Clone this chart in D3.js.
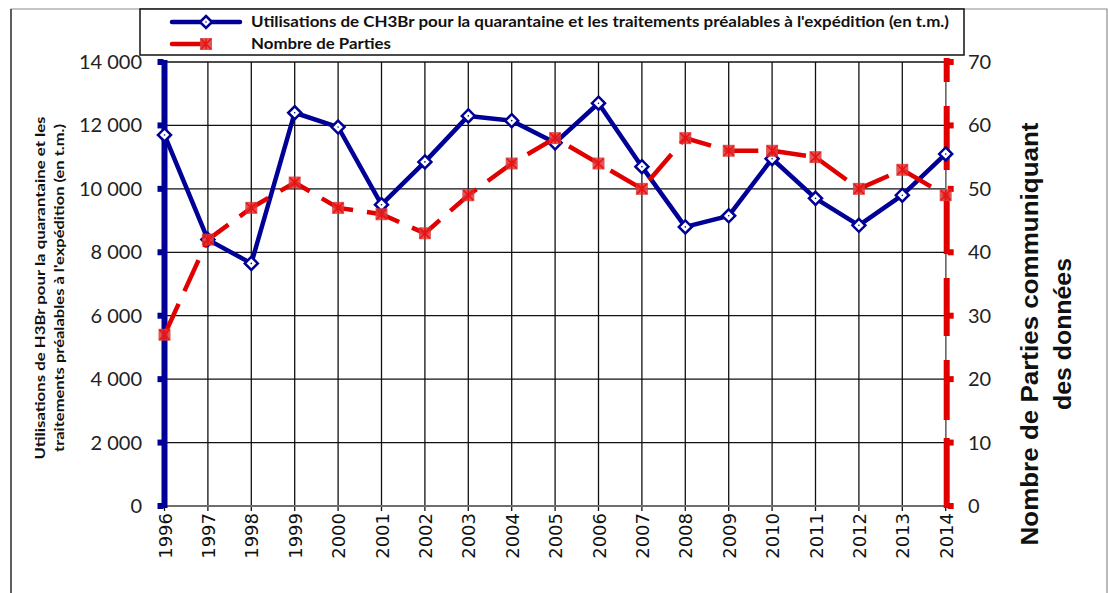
<!DOCTYPE html>
<html>
<head>
<meta charset="utf-8">
<script src="https://cdn.jsdelivr.net/npm/d3@7"></script>
<style>
  body { margin: 0; background: #fff; }
</style>
</head>
<body>
<div id="chart"></div>
<script>
const width = 1108;
const height = 593;

// data
const years = [1996, 1997, 1998, 1999, 2000, 2001, 2002, 2003, 2004, 2005,
               2006, 2007, 2008, 2009, 2010, 2011, 2012, 2013, 2014];
const usesCH3Br = [11700, 8400, 7650, 12400, 11950, 9500, 10850, 12300, 12150, 11450,
                   12700, 10700, 8800, 9150, 10950, 9700, 8850, 9800, 11100];
const nbParties = [27, 42, 47, 51, 47, 46, 43, 49, 54, 58,
                   54, 50, 58, 56, 56, 55, 50, 53, 49];
const leftTicks = [0, 2000, 4000, 6000, 8000, 10000, 12000, 14000];
const rightTicks = [0, 10, 20, 30, 40, 50, 60, 70];

const blue = "#000096";
const red = "#e00000";

const svg = d3.select("#chart")
    .append("svg")
    .attr("width", width)
    .attr("height", height)
    .style("font-family", "Lato, 'Open Sans', sans-serif");

// outer frame
svg.append("path")
    .attr("d", `M11,${height} V9 H1107 V${height}`)
    .attr("fill", "none")
    .attr("stroke", "#8c8c8c")
    .attr("stroke-width", 1.2);
svg.append("line")
    .attr("x1", 11).attr("x2", 11).attr("y1", 9).attr("y2", height)
    .attr("stroke", "#222").attr("stroke-width", 1.2);

// scales
const x = d3.scalePoint()
    .domain(years)
    .range([164.5, 945.7]);

const yLeft = d3.scaleLinear()
    .domain([0, 14000])
    .range([506, 62]);

const yRight = d3.scaleLinear()
    .domain([0, 70])
    .range([506, 62]);

// grid
svg.append("g")
    .selectAll("line")
    .data(leftTicks.slice(1))
    .enter().append("line")
    .attr("x1", x(years[0])).attr("x2", x(years[years.length - 1]))
    .attr("y1", d => yLeft(d)).attr("y2", d => yLeft(d))
    .attr("stroke", "#111").attr("stroke-width", 1.3);

svg.append("g")
    .selectAll("line")
    .data(years)
    .enter().append("line")
    .attr("x1", d => x(d)).attr("x2", d => x(d))
    .attr("y1", yLeft(14000)).attr("y2", yLeft(0) + 5)
    .attr("stroke", "#111").attr("stroke-width", 1.3);

// x axis line
svg.append("line")
    .attr("x1", x(years[0])).attr("x2", x(years[years.length - 1]))
    .attr("y1", yLeft(0)).attr("y2", yLeft(0))
    .attr("stroke", "#6e6e6e").attr("stroke-width", 2);

// x labels (rotated)
svg.append("g")
    .selectAll("text")
    .data(years)
    .enter().append("text")
    .attr("transform", d => `translate(${x(d) + 7},513) rotate(-90)`)
    .attr("text-anchor", "end")
    .attr("font-family", "'DejaVu Sans', sans-serif")
    .attr("font-size", "18px")
    .attr("fill", "#111")
    .text(d => d);

// left axis styled like the blue series
svg.append("line")
    .attr("x1", x(years[0])).attr("x2", x(years[0]))
    .attr("y1", yLeft(14000) - 2).attr("y2", yLeft(0) + 2)
    .attr("stroke", blue).attr("stroke-width", 6);
svg.append("g")
    .selectAll("rect")
    .data(leftTicks)
    .enter().append("rect")
    .attr("x", x(years[0]) - 7)
    .attr("y", d => yLeft(d) - 3)
    .attr("width", 6).attr("height", 6)
    .attr("fill", blue);

svg.append("g")
    .selectAll("text")
    .data(leftTicks)
    .enter().append("text")
    .attr("x", 142)
    .attr("y", d => yLeft(d) + 7)
    .attr("text-anchor", "end")
    .attr("font-size", "20px")
    .attr("fill", "#222")
    .text(d => d3.format(",")(d).replace(",", " "));

// right axis styled like the red series
svg.append("line")
    .attr("x1", x(years[years.length - 1])).attr("x2", x(years[years.length - 1]))
    .attr("y1", yRight(70)).attr("y2", yRight(0))
    .attr("stroke", "#777").attr("stroke-width", 1.2);
svg.append("line")
    .attr("x1", x(years[years.length - 1]) + 1).attr("x2", x(years[years.length - 1]) + 1)
    .attr("y1", yRight(0) + 2).attr("y2", yRight(70) - 4)
    .attr("stroke", red).attr("stroke-width", 6)
    .attr("stroke-dasharray", "70,18,60,24,58,24,60,24,64,24,60,24");
svg.append("g")
    .selectAll("rect")
    .data(rightTicks)
    .enter().append("rect")
    .attr("x", x(years[years.length - 1]) + 2)
    .attr("y", d => yRight(d) - 3)
    .attr("width", 6).attr("height", 6)
    .attr("fill", red);

svg.append("g")
    .selectAll("text")
    .data(rightTicks)
    .enter().append("text")
    .attr("x", 968)
    .attr("y", d => yRight(d) + 7)
    .attr("font-size", "20px")
    .attr("fill", "#222")
    .text(d => d);

// axis titles
const leftTitle = svg.append("text")
    .attr("transform", "translate(48,288) rotate(-90)")
    .attr("text-anchor", "middle")
    .attr("font-size", "13.5px")
    .attr("font-weight", "bold")
    .attr("fill", "#111");
leftTitle.append("tspan").attr("x", 0).attr("y", -3)
    .attr("textLength", 343).attr("lengthAdjust", "spacingAndGlyphs")
    .text("Utilisations de H3Br pour la quarantaine et les");
leftTitle.append("tspan").attr("x", 0).attr("y", 16)
    .attr("textLength", 328).attr("lengthAdjust", "spacingAndGlyphs")
    .text("traitements préalables à l'expédition (en t.m.)");

const rightTitle = svg.append("text")
    .attr("transform", "translate(1046,334) rotate(-90)")
    .attr("text-anchor", "middle")
    .attr("font-family", "'Liberation Sans', Arial, sans-serif")
    .attr("font-size", "23px")
    .attr("font-weight", "bold")
    .attr("fill", "#111");
rightTitle.append("tspan").attr("x", 0).attr("y", -8)
    .attr("textLength", 423).attr("lengthAdjust", "spacingAndGlyphs")
    .text("Nombre de Parties communiquant");
rightTitle.append("tspan").attr("x", 0).attr("y", 25)
    .attr("textLength", 152).attr("lengthAdjust", "spacingAndGlyphs")
    .text("des données");

// blue series
const blueLine = d3.line()
    .x((d, i) => x(years[i]))
    .y(d => yLeft(d));

svg.append("path")
    .datum(usesCH3Br)
    .attr("fill", "none")
    .attr("stroke", blue)
    .attr("stroke-width", 4.5)
    .attr("stroke-linejoin", "round")
    .attr("d", blueLine);

function diamond(g, cx, cy, r) {
    g.append("path")
        .attr("d", `M${cx},${cy - r} L${cx + r},${cy} L${cx},${cy + r} L${cx - r},${cy} Z`)
        .attr("fill", "#fff")
        .attr("stroke", blue)
        .attr("stroke-width", 2.5);
    g.append("circle")
        .attr("cx", cx).attr("cy", cy).attr("r", 0.8)
        .attr("fill", blue);
}

const blueMarks = svg.append("g");
usesCH3Br.forEach((d, i) => diamond(blueMarks, x(years[i]), yLeft(d), 6.5));

// red series
const redLine = d3.line()
    .x((d, i) => x(years[i]))
    .y(d => yRight(d));

svg.append("path")
    .datum(nbParties)
    .attr("fill", "none")
    .attr("stroke", red)
    .attr("stroke-width", 4.5)
    .attr("stroke-dasharray", "34,14")
    .attr("d", redLine);

function starSquare(g, cx, cy, s) {
    g.append("rect")
        .attr("x", cx - s / 2).attr("y", cy - s / 2)
        .attr("width", s).attr("height", s)
        .attr("fill", "#d93a3a")
        .attr("opacity", 0.85);
    const h = s / 2 - 1;
    g.append("path")
        .attr("d", `M${cx - h},${cy - h} L${cx + h},${cy + h} M${cx - h},${cy + h} L${cx + h},${cy - h} M${cx},${cy - h} L${cx},${cy + h}`)
        .attr("stroke", "#ee1010")
        .attr("stroke-width", 1.5);
}

const redMarks = svg.append("g");
nbParties.forEach((d, i) => starSquare(redMarks, x(years[i]), yRight(d), 12));

// legend
const legend = svg.append("g");
legend.append("rect")
    .attr("x", 140).attr("y", 9)
    .attr("width", 824).attr("height", 46)
    .attr("fill", "#fff")
    .attr("stroke", "#111")
    .attr("stroke-width", 1.5);

legend.append("line")
    .attr("x1", 172).attr("x2", 240).attr("y1", 22).attr("y2", 22)
    .attr("stroke", blue).attr("stroke-width", 4.5).attr("stroke-linecap", "round");
diamond(legend, 206, 22, 6);

legend.append("line")
    .attr("x1", 172).attr("x2", 204).attr("y1", 44).attr("y2", 44)
    .attr("stroke", red).attr("stroke-width", 4.5).attr("stroke-linecap", "round");
starSquare(legend, 206, 44, 12);

legend.append("text")
    .attr("x", 251).attr("y", 27)
    .attr("font-size", "15px")
    .attr("font-weight", "bold")
    .attr("fill", "#111")
    .attr("textLength", 698).attr("lengthAdjust", "spacingAndGlyphs")
    .text("Utilisations de CH3Br pour la quarantaine et les traitements préalables à l'expédition (en t.m.)");

legend.append("text")
    .attr("x", 251).attr("y", 49)
    .attr("font-size", "15px")
    .attr("font-weight", "bold")
    .attr("fill", "#111")
    .attr("textLength", 140).attr("lengthAdjust", "spacingAndGlyphs")
    .text("Nombre de Parties");
</script>
</body>
</html>
